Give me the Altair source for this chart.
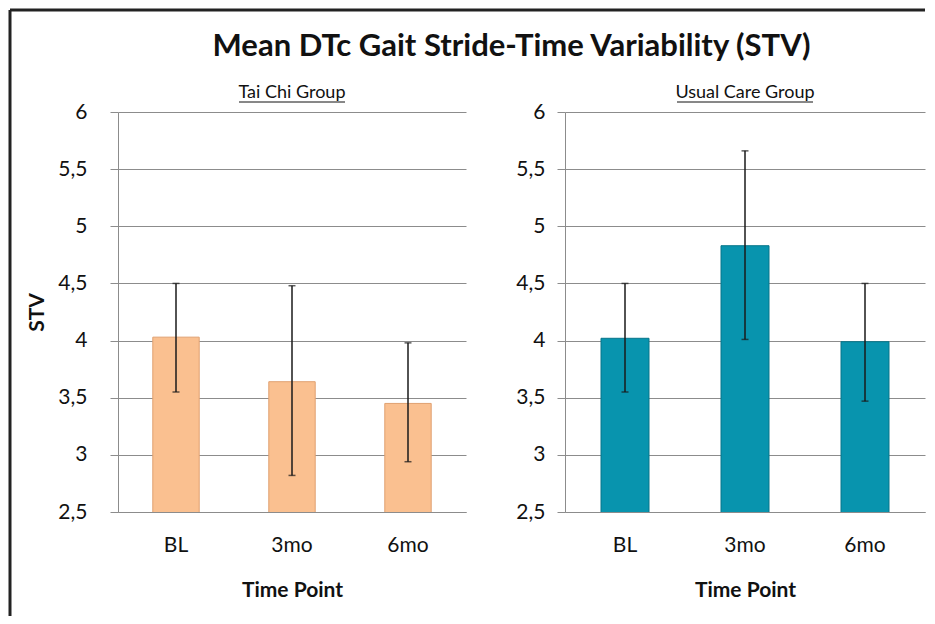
import altair as alt
import pandas as pd

# ---- data ----
time_points = ["BL", "3mo", "6mo"]
tai_chi_mean = [4.03, 3.64, 3.45]
tai_chi_low = [3.55, 2.82, 2.94]
tai_chi_high = [4.50, 4.48, 3.98]
usual_mean = [4.02, 4.83, 3.99]
usual_low = [3.55, 4.01, 3.47]
usual_high = [4.50, 5.66, 4.50]
main_title = ["Mean DTc Gait Stride-Time Variability (STV)"]
group_titles = ["Tai Chi Group", "Usual Care Group"]
y_ticks = [2.5, 3, 3.5, 4, 4.5, 5, 5.5, 6]

FONT = "Lato"
H = 400
LW, RW = 348, 360
GAP = 99
GRID = "#8c8c8c"


def panel(mean, low, high, fill, edge, width, subtitle, label_pad, ytitle, underline_w):
    df = pd.DataFrame({"time": time_points, "mean": mean, "low": low, "high": high})
    base = alt.Chart(df)
    x = alt.X(
        "time:N",
        sort=time_points,
        scale=alt.Scale(paddingInner=0.6, paddingOuter=0.3),
        axis=alt.Axis(
            title="Time Point", labelAngle=0, ticks=False, domain=True,
            domainColor=GRID, labelFont=FONT, labelFontSize=21, labelColor="#111",
            labelPadding=22, titleFont=FONT, titleFontSize=21, titleFontWeight="bold",
            titleColor="#111", titlePadding=24, grid=False,
        ),
    )
    axis_kw = dict(
        values=y_ticks,
        labelExpr="replace(toString(datum.value), '.', ',')",
        labelFont=FONT, labelFontSize=21, labelColor="#111", labelPadding=label_pad,
        tickSize=8, tickColor=GRID, domainColor=GRID, gridColor=GRID,
        grid=True, gridWidth=1,
    )
    if ytitle:
        axis_kw.update(title=ytitle, titleFont=FONT, titleFontSize=21,
                       titleFontWeight="bold", titleColor="#111", titlePadding=10)
    else:
        axis_kw.update(title=None)
    y = alt.Y("mean:Q", scale=alt.Scale(domain=[2.5, 6], nice=False, zero=False),
              axis=alt.Axis(**axis_kw))

    bars = base.mark_bar(color=fill, stroke=edge, strokeWidth=1, clip=True).encode(x=x, y=y)
    err = base.mark_rule(color="#1a1a1a", strokeWidth=1.5).encode(
        x=alt.X("time:N", sort=time_points), y="low:Q", y2="high:Q")
    cap_lo = base.mark_tick(color="#1a1a1a", thickness=1.5, size=7).encode(
        x=alt.X("time:N", sort=time_points), y="low:Q")
    cap_hi = base.mark_tick(color="#1a1a1a", thickness=1.5, size=7).encode(
        x=alt.X("time:N", sort=time_points), y="high:Q")

    sub = alt.Chart(pd.DataFrame({"t": [subtitle]})).mark_text(
        font=FONT, fontSize=18, color="#111", align="center", baseline="alphabetic"
    ).encode(text="t:N", x=alt.value(width / 2), y=alt.value(-14))
    underline = alt.Chart(pd.DataFrame({"t": [subtitle]})).mark_rule(
        color="#111", strokeWidth=1
    ).encode(x=alt.value(width / 2 - underline_w / 2),
             x2=alt.value(width / 2 + underline_w / 2), y=alt.value(-10))
    return [bars, err, cap_lo, cap_hi, sub, underline]


left_layers = panel(tai_chi_mean, tai_chi_low, tai_chi_high, "#FAC090", "#E0A070",
                    LW, group_titles[0], 23, "STV", 106)
right_layers = panel(usual_mean, usual_low, usual_high, "#0894AE", "#07758A",
                     RW, group_titles[1], 12, None, 136)

total_w = LW + GAP + RW
title_layer = alt.Chart(pd.DataFrame({"t": main_title})).mark_text(
    font=FONT, fontSize=31, fontWeight="bold", color="#111", align="center", baseline="middle"
).encode(text="t:N", x=alt.value(total_w / 2 - 10), y=alt.value(-65))

border_src = alt.Chart(pd.DataFrame({"t": ["border"]}))
border_left = border_src.mark_rule(color="#222", strokeWidth=3).encode(
    x=alt.value(-108), y=alt.value(-102), y2=alt.value(504))
border_top = border_src.mark_rule(color="#222", strokeWidth=3).encode(
    x=alt.value(-108), x2=alt.value(total_w), y=alt.value(-102))

left = alt.layer(*left_layers, title_layer, border_left, border_top).properties(width=LW, height=H)
right = alt.layer(*right_layers).properties(width=RW, height=H)

chart = alt.hconcat(left, right, spacing=GAP, bounds="flush").properties(
    padding=0, background="white"
).configure_view(stroke=None)

chart.save("out.html", embed_options={"renderer": "svg", "actions": False})
